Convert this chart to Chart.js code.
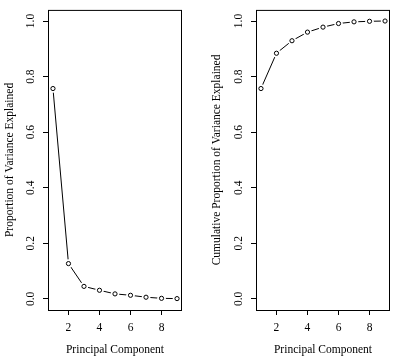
<!DOCTYPE html>
<html>
<head>
<meta charset="utf-8">
<script src="https://cdn.jsdelivr.net/npm/chart.js@4.4.1/dist/chart.umd.min.js"></script>
<style>
  html, body { margin: 0; padding: 0; background: #fff; }
  #wrap { position: relative; width: 415px; height: 361px; overflow: hidden; }
  canvas { position: absolute; top: 0; }
</style>
</head>
<body>
<div id="wrap">
  <canvas id="c1" width="207" height="361" style="left:0px"></canvas>
  <canvas id="c2" width="208" height="361" style="left:207px"></canvas>
</div>
<script>
const components = [1, 2, 3, 4, 5, 6, 7, 8, 9];
const pve = [0.757, 0.127, 0.045, 0.031, 0.018, 0.013, 0.006, 0.002, 0.001];
const cumPve = [0.757, 0.884, 0.929, 0.960, 0.978, 0.991, 0.997, 0.999, 1.000];
const xTicks = [2, 4, 6, 8];
const yTicks = [0.0, 0.2, 0.4, 0.6, 0.8, 1.0];
const xTitle = 'Principal Component';
const yTitleLeft = 'Proportion of Variance Explained';
const yTitleRight = 'Cumulative Proportion of Variance Explained';

const FONT = 'Liberation Serif';
const FS = 11.5;

const rPlot = {
  id: 'rPlot',
  afterDraw(chart) {
    const ctx = chart.ctx;
    const a = chart.chartArea;
    ctx.save();
    ctx.strokeStyle = '#000';
    ctx.lineWidth = 1;
    ctx.strokeRect(a.left + 0.5, a.top + 0.5, a.right - a.left - 1, a.bottom - a.top);
    // rotated y tick labels (R style, parallel to axis)
    const ys = chart.scales.y;
    ctx.fillStyle = '#000';
    ctx.font = FS + 'px "' + FONT + '"';
    ctx.textAlign = 'center';
    ctx.textBaseline = 'middle';
    yTicks.forEach(v => {
      const py = ys.getPixelForValue(v);
      ctx.save();
      ctx.translate(a.left - 17, py);
      ctx.rotate(-Math.PI / 2);
      ctx.fillText(v.toFixed(1), 0, 0);
      ctx.restore();
    });
    ctx.restore();
  }
};

function makeChart(id, values, yTitle, yWidth, padRight) {
  const pts = components.map((c, i) => ({ x: c, y: values[i] }));
  return new Chart(document.getElementById(id), {
    type: 'line',
    data: {
      datasets: [
        { data: pts, showLine: false, pointRadius: 2.1, pointBorderWidth: 1,
          pointBackgroundColor: '#fff', pointBorderColor: '#000', order: 1 },
        { data: pts, showLine: false, pointRadius: 4.3, pointBorderWidth: 0,
          pointBackgroundColor: '#fff', pointBorderColor: '#fff', order: 2 },
        { data: pts, showLine: true, borderColor: '#000', borderWidth: 1,
          pointRadius: 0, tension: 0, order: 3 }
      ]
    },
    options: {
      responsive: false,
      animation: false,
      devicePixelRatio: 1,
      layout: { padding: { top: 4, right: padRight, bottom: 0, left: 0 } },
      plugins: { legend: { display: false }, tooltip: { enabled: false } },
      scales: {
        x: {
          type: 'linear', min: 0.68, max: 9.32,
          afterBuildTicks: s => { s.ticks = xTicks.map(v => ({ value: v })); },
          afterFit: s => { s.height = 51; },
          grid: { drawOnChartArea: false, drawTicks: true, tickLength: 5, tickColor: '#000' },
          border: { display: false },
          ticks: { color: '#000', padding: 6, maxRotation: 0, autoSkip: false,
                   font: { family: FONT, size: FS } },
          title: { display: true, text: xTitle, color: '#000',
                   font: { family: FONT, size: FS }, padding: { top: 0, bottom: 4 } }
        },
        y: {
          type: 'linear', min: -0.04, max: 1.04,
          afterBuildTicks: s => { s.ticks = yTicks.map(v => ({ value: v })); },
          afterFit: s => { s.width = yWidth; },
          grid: { drawOnChartArea: false, drawTicks: true, tickLength: 5, tickColor: '#000' },
          border: { display: false },
          ticks: { color: 'rgba(0,0,0,0)', font: { family: FONT, size: FS } },
          title: { display: true, text: yTitle, color: '#000',
                   font: { family: FONT, size: FS }, padding: { top: 3, bottom: 0 } }
        }
      }
    },
    plugins: [rPlot]
  });
}

makeChart('c1', pve, yTitleLeft, 48, 25);
makeChart('c2', cumPve, yTitleRight, 49, 25);
</script>
</body>
</html>
